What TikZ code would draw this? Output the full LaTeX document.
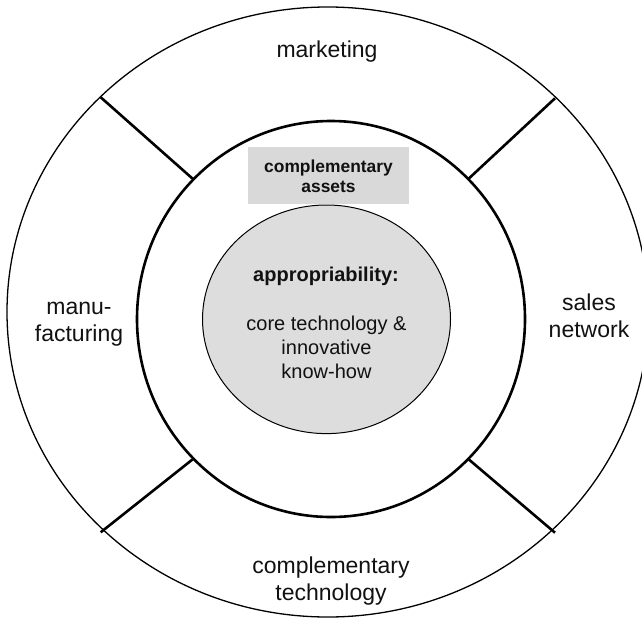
\documentclass[tikz,border=0pt]{standalone}
\usepackage{fontspec}
\setmainfont{Liberation Sans}
\definecolor{coregray}{HTML}{DDDDDD}
\definecolor{boxgray}{HTML}{D9D9D9}
\definecolor{txt}{HTML}{111111}
\begin{document}
\begin{tikzpicture}[x=1pt,y=-1pt,
  thinring/.style={line width=1.3pt},
  thickring/.style={line width=2.6pt},
  divider/.style={line width=2.6pt},
  outerlbl/.style={font=\fontsize{23}{26.8}\selectfont, text=txt, align=center, inner sep=0pt, anchor=base},
  innerlbl/.style={font=\fontsize{20}{23.8}\selectfont, text=txt, align=center, inner sep=0pt, anchor=base},
  boxlbl/.style={font=\bfseries\fontsize{17.4}{20}\selectfont, text=txt, align=center, inner sep=0pt, anchor=base}]
\useasboundingbox (0,0) rectangle (642,618);
% rings
\draw[thinring] (327.8,312) ellipse [x radius=320.8pt, y radius=305pt];
\draw[thickring] (331,319) ellipse [x radius=194pt, y radius=198pt];
% core
\draw[line width=1pt, fill=coregray] (326.5,319.3) ellipse [x radius=124pt, y radius=114.3pt];
\fill[boxgray] (248,147) rectangle (409,204);
% divider end points
\coordinate (ulOut) at (100.7,97.3);
\coordinate (ulIn) at (193.3,179.3);
\coordinate (urOut) at (555,98.3);
\coordinate (urIn) at (468.3,179);
\coordinate (llOut) at (100.7,532.3);
\coordinate (llIn) at (192.7,459.3);
\coordinate (lrOut) at (555,532.7);
\coordinate (lrIn) at (468.3,459);
\draw[divider] (ulIn) -- (ulOut);
\draw[divider] (urIn) -- (urOut);
\draw[divider] (llIn) -- (llOut);
\draw[divider] (lrIn) -- (lrOut);
% labels (base anchor = baseline of last line)
\node[outerlbl] (mkt) at (327,57) {marketing};
\node[outerlbl] (mfg) at (79,341.7) {manu-\\facturing};
\node[outerlbl] (sales) at (589,337) {sales\\network};
\node[outerlbl] (ctech) at (331,600) {complementary\\technology};
\node[boxlbl] (assets) at (328.5,192.3) {complementary\\assets};
\node[innerlbl, font=\bfseries\fontsize{20}{23.8}\selectfont] (approp) at (326,281.7) {appropriability:};
\node[innerlbl] (core) at (326.5,378.3) {core technology \&\\innovative\\know-how};
\end{tikzpicture}
\end{document}
